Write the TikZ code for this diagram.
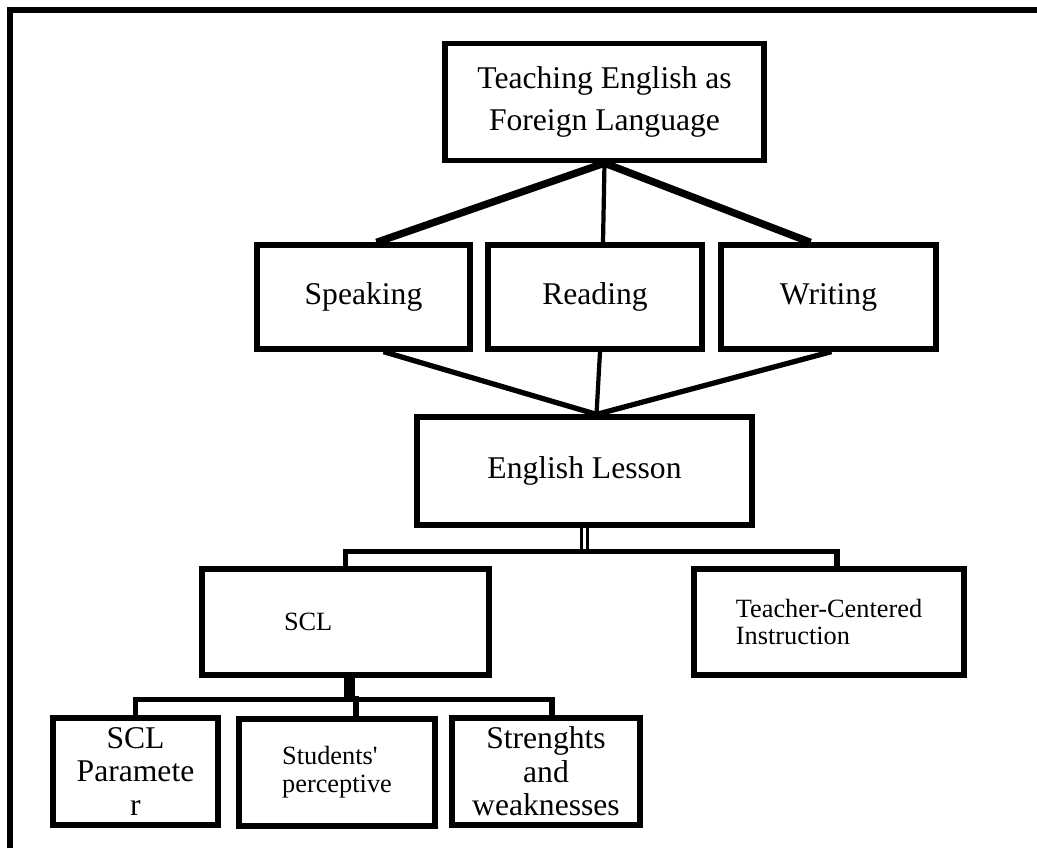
\documentclass[tikz,border=0pt]{standalone}
\usepackage{fontspec}
\setmainfont{Liberation Serif}
\usetikzlibrary{calc}

\begin{document}
\begin{tikzpicture}[x=0.02cm,y=-0.02cm,
  box/.style={draw,line width=3pt,align=center,font=\fontsize{18}{20}\selectfont},
  small/.style={font=\fontsize{15}{15.5}\selectfont},
  link/.style={line width=3pt},
  heavy/.style={line width=4.2pt},
  thin/.style={line width=2.4pt}]
  \useasboundingbox (0,0) rectangle (1037,848);
  \draw[line width=3pt] (10,848) -- (10,10) -- (1037,10);

  \node[box,minimum width=6.38cm,minimum height=2.34cm,font=\fontsize{18}{23.5}\selectfont] (teach) at (604.5,102) {Teaching English as\\Foreign Language};
  \node[box,minimum width=4.26cm,minimum height=2.08cm] (speak) at (363.5,297) {Speaking};
  \node[box,minimum width=4.28cm,minimum height=2.08cm] (read) at (595,297) {Reading};
  \node[box,minimum width=4.3cm,minimum height=2.08cm] (write) at (828.5,297) {Writing};
  \node[box,minimum width=6.7cm,minimum height=2.16cm] (lesson) at (584.5,471) {English Lesson};
  \node[box,small,minimum width=5.74cm,minimum height=2.12cm,inner xsep=1.64cm,text width=2.46cm,align=left] (scl) at (345.5,622) {SCL};
  \node[box,small,minimum width=5.4cm,minimum height=2.12cm,align=left] (tci) at (829,622) {Teacher-Centered\\Instruction};
  \node[box,minimum width=3.3cm,minimum height=2.14cm,font=\fontsize{18}{19}\selectfont] (param) at (135.5,771.5) {SCL\\Paramete\\r};
  \node[box,minimum width=3.92cm,minimum height=2.14cm,align=left,font=\fontsize{15}{16}\selectfont] (percep) at (337,772.5) {Students\textquotesingle\\perceptive};
  \node[box,minimum width=3.76cm,minimum height=2.14cm,font=\fontsize{18}{19}\selectfont] (strength) at (546,771.5) {Strenghts\\and\\weaknesses};

  % skills fan
  \draw[heavy] (teach.south) -- ($(speak.north)+(13,0)$);
  \draw[thin] (teach.south) -- ($(read.north)+(8,0)$);
  \draw[heavy] (teach.south) -- ($(write.north)+(-18,0)$);
  \coordinate (meet) at ($(lesson.north)+(12,0)$);
  \draw[link] ($(speak.south)+(20,0)$) -- (meet);
  \draw[thin] ($(read.south)+(5,0)$) -- (meet);
  \draw[link] ($(write.south)+(3,0)$) -- (meet);

  % lesson branches
  \coordinate (fork) at ($(lesson.south)+(0,24)$);
  \draw[line width=2pt,double,double distance=1.6pt] (lesson.south) -- (fork);
  \draw[link] (scl.north) |- (fork) -| ($(tci.north)+(8,0)$);

  % SCL branches
  \coordinate (split) at ($(scl.south)+(4,22)$);
  \draw[line width=6.5pt] ($(scl.south)+(4,0)$) -- (split);
  \draw[link] (param.north) |- (split) -| ($(strength.north)+(6,0)$);
  \draw[link] ($(percep.north)+(19,-20)$) -- ($(percep.north)+(19,4)$);
\end{tikzpicture}
\end{document}
